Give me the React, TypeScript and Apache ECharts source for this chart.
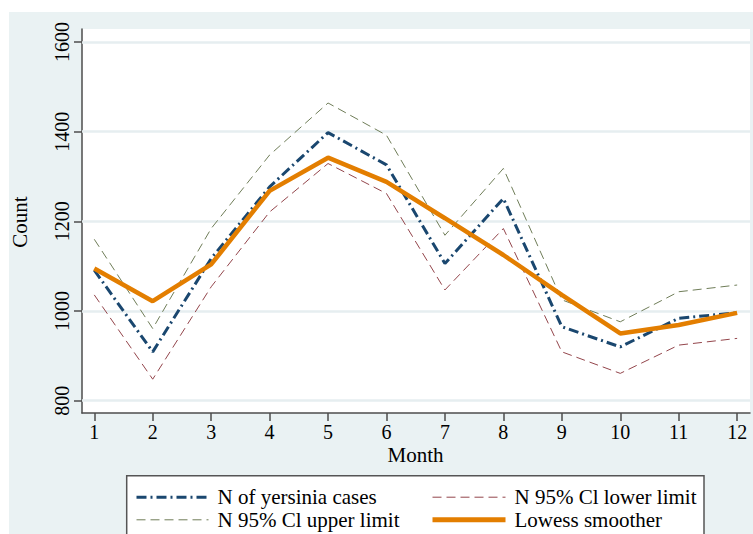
import React, { useEffect, useRef } from "react";
import * as echarts from "echarts";

const months = [1, 2, 3, 4, 5, 6, 7, 8, 9, 10, 11, 12];
const casesValues = [1091, 909, 1117, 1277, 1398, 1326, 1106, 1251, 965, 920, 984, 996];
const upperValues = [1160, 961, 1184, 1348, 1464, 1392, 1169, 1318, 1025, 976, 1043, 1058];
const lowerValues = [1036, 848, 1054, 1221, 1329, 1262, 1047, 1184, 909, 861, 924, 939];
const lowessValues = [1095, 1022, 1104, 1268, 1342, 1288, 1207, 1125, 1036, 950, 969, 996];
const yTicks = [800, 1000, 1200, 1400, 1600];

const NAME_CASES = "N of yersinia cases";
const NAME_UPPER = "N 95% Cl upper limit";
const NAME_LOWER = "N 95% Cl lower limit";
const NAME_LOWESS = "Lowess smoother";

const FONT = "Liberation Serif, Times New Roman, serif";
const BG = "#eaf2f3";

function pairs(vals: number[]) {
  return months.map((m, i) => [m, vals[i]]);
}

export default function App() {
  const ref = useRef<HTMLDivElement>(null);
  useEffect(() => {
    if (!ref.current) return;
    const chart = echarts.init(ref.current, undefined, { renderer: "svg" });
    const legendText = {
      fontFamily: FONT,
      fontSize: 21,
      lineHeight: 20,
      color: "#000",
      padding: [0, 0, 0, 4],
    };
    const hiddenSymbol = { opacity: 0, borderWidth: 0 };
    chart.setOption({
      animation: false,
      backgroundColor: "#fff",
      textStyle: { fontFamily: FONT },
      graphic: [
        { type: "rect", z: -10, shape: { x: 9, y: 12, width: 744, height: 522 }, style: { fill: BG } },
        {
          type: "rect",
          z: -5,
          shape: { x: 126.7, y: 475.7, width: 577.3, height: 70 },
          style: { fill: "#fff", stroke: "#555", lineWidth: 1.5 },
        },
        {
          type: "text",
          x: 20,
          y: 222,
          rotation: Math.PI / 2,
          style: { text: "Count", font: `21px ${FONT}`, fill: "#000", align: "center", verticalAlign: "middle" },
        },
        {
          type: "text",
          x: 415.5,
          y: 455,
          style: { text: "Month", font: `21px ${FONT}`, fill: "#000", align: "center", verticalAlign: "middle" },
        },
      ],
      grid: {
        left: 82,
        right: 3,
        top: 29,
        bottom: 121,
        show: true,
        backgroundColor: "#fff",
        borderWidth: 0,
      },
      xAxis: {
        type: "value",
        min: 0.79,
        max: 12.22,
        axisLine: { show: true, lineStyle: { color: "#4d4d4d", width: 1.5 } },
        axisTick: { show: true, length: 8, customValues: months, lineStyle: { color: "#4d4d4d", width: 1.5 } },
        axisLabel: {
          customValues: months,
          margin: 9,
          fontFamily: FONT,
          fontSize: 20,
          color: "#000",
          formatter: (v: number) => String(v),
        },
        splitLine: { show: false },
      },
      yAxis: {
        type: "value",
        min: 772.6,
        max: 1629,
        axisLine: { show: true, lineStyle: { color: "#4d4d4d", width: 1.5 } },
        axisTick: { show: true, length: 8, customValues: yTicks, lineStyle: { color: "#4d4d4d", width: 1.5 } },
        axisLabel: {
          customValues: yTicks,
          rotate: 90,
          margin: 10,
          fontFamily: FONT,
          fontSize: 20,
          color: "#000",
          formatter: (v: number) => String(v),
        },
        splitLine: { show: false },
      },
      legend: [
        {
          orient: "vertical",
          left: 135,
          top: 486.7,
          padding: 0,
          itemWidth: 72,
          itemHeight: 20,
          itemGap: 1.6,
          selectedMode: false,
          textStyle: legendText,
          itemStyle: hiddenSymbol,
          data: [
            { name: NAME_CASES, lineStyle: { width: 3 }, itemStyle: hiddenSymbol, textStyle: legendText },
            { name: NAME_UPPER, lineStyle: { width: 1 }, itemStyle: hiddenSymbol, textStyle: legendText },
          ],
        },
        {
          orient: "vertical",
          left: 430,
          top: 486.7,
          padding: 0,
          itemWidth: 73,
          itemHeight: 20,
          itemGap: 1.6,
          selectedMode: false,
          textStyle: legendText,
          itemStyle: hiddenSymbol,
          data: [
            { name: NAME_LOWER, lineStyle: { width: 1 }, itemStyle: hiddenSymbol, textStyle: legendText },
            { name: NAME_LOWESS, lineStyle: { width: 5 }, itemStyle: hiddenSymbol, textStyle: legendText },
          ],
        },
      ],
      series: [
        {
          name: NAME_CASES,
          type: "line",
          data: pairs(casesValues),
          symbol: "none",
          color: "#1a476f",
          lineStyle: { color: "#1a476f", width: 3, type: [10, 4, 2, 4] },
          markLine: {
            silent: true,
            symbol: "none",
            z: 1,
            label: { show: false },
            lineStyle: { color: "#e6eef0", width: 2.5, type: "solid" },
            data: yTicks.map((v) => ({ yAxis: v })),
          },
        },
        {
          name: NAME_LOWER,
          type: "line",
          data: pairs(lowerValues),
          symbol: "none",
          color: "#93454b",
          lineStyle: { color: "#93454b", width: 1, type: [9, 5] },
        },
        {
          name: NAME_UPPER,
          type: "line",
          data: pairs(upperValues),
          symbol: "none",
          color: "#6f7d58",
          lineStyle: { color: "#6f7d58", width: 1, type: [9, 5] },
        },
        {
          name: NAME_LOWESS,
          type: "line",
          data: pairs(lowessValues),
          symbol: "none",
          color: "#e37e00",
          lineStyle: { color: "#e37e00", width: 4.5 },
        },
      ],
    });
    return () => chart.dispose();
  }, []);
  return <div ref={ref} style={{ position: "absolute", left: 0, top: 0, width: 753, height: 534 }} />;
}
